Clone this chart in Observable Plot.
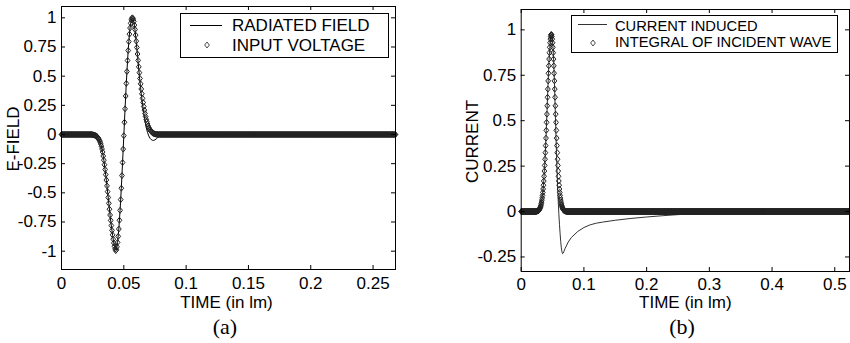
<!DOCTYPE html>
<html>
<head>
<meta charset="utf-8">
<script src="https://cdn.jsdelivr.net/npm/d3@7"></script>
<script src="https://cdn.jsdelivr.net/npm/@observablehq/plot@0.6"></script>
<style>
  body { margin: 0; background: #fff; }
  #page { position: relative; width: 850px; height: 343px; background: #fff; overflow: hidden;
          font-family: "Liberation Sans", Arial, sans-serif; color: #000; }
  .panel { position: absolute; top: 0; }
  #pa { left: 0; }
  #pb { left: 425px; }
  .legend { position: absolute; }
  .cap { position: absolute; top: 316px; width: 100px; text-align: center; line-height: 22px;
         font-family: "Liberation Serif", "Times New Roman", serif; font-size: 22px; }
</style>
</head>
<body>
<div id="page">
  <div id="pa" class="panel"></div>
  <div id="pb" class="panel"></div>
  <svg class="legend" style="left:180px;top:13px" width="209" height="45">
    <rect x="0.5" y="0.5" width="208" height="44" fill="#fff" stroke="#000" stroke-width="1"></rect>
    <line x1="10" x2="42" y1="12.5" y2="12.5" stroke="#000" stroke-width="1"></line>
    <path d="M27,29.03L29.37,32L27,34.97L24.63,32Z" fill="none" stroke="#333" stroke-width="0.9"></path>
    <text x="52" y="18" font-size="17" font-family="Liberation Sans, Arial, sans-serif">RADIATED FIELD</text>
    <text x="52" y="38" font-size="17" font-family="Liberation Sans, Arial, sans-serif">INPUT VOLTAGE</text>
  </svg>
  <svg class="legend" style="left:571px;top:15px" width="267" height="38">
    <rect x="0.5" y="0.5" width="266" height="37" fill="#fff" stroke="#000" stroke-width="1"></rect>
    <line x1="7" x2="36" y1="9.5" y2="9.5" stroke="#333" stroke-width="1"></line>
    <path d="M22,25.03L24.37,28L22,30.97L19.63,28Z" fill="none" stroke="#333" stroke-width="0.9"></path>
    <text x="44" y="15.7" font-size="14.7" font-family="Liberation Sans, Arial, sans-serif">CURRENT INDUCED</text>
    <text x="44" y="31.7" font-size="14.7" font-family="Liberation Sans, Arial, sans-serif">INTEGRAL OF INCIDENT WAVE</text>
  </svg>
  <div class="cap" style="left:175px">(a)</div>
  <div class="cap" style="left:632px">(b)</div>
</div>
<script>
// ---------- data ----------
const sampleStep = 0.0005;

// Panel (a)
const xTicksA = [0, 0.05, 0.1, 0.15, 0.2, 0.25];
const yTicksA = [-1, -0.75, -0.5, -0.25, 0, 0.25, 0.5, 0.75, 1];
const gridEndA = 0.268;

const fieldTimes = [0, 0.024, 0.025, 0.026, 0.027, 0.028, 0.029, 0.030, 0.031, 0.032, 0.033,
  0.034, 0.035, 0.036, 0.037, 0.038, 0.039, 0.040, 0.041, 0.042, 0.043, 0.044, 0.045, 0.046,
  0.047, 0.048, 0.049, 0.050, 0.051, 0.052, 0.053, 0.054, 0.055, 0.056, 0.057, 0.058, 0.059,
  0.060, 0.061, 0.062, 0.063, 0.064, 0.065, 0.066, 0.067, 0.068, 0.069, 0.070, 0.071, 0.072,
  0.073, 0.074, 0.075, 0.076, 0.077, 0.078, 0.079, 0.080, 0.081, 0.082, 0.268];
const radiatedField = [0, 0, -0.002, -0.004, -0.008, -0.014, -0.024, -0.040, -0.066, -0.102, -0.152,
  -0.222, -0.303, -0.393, -0.494, -0.594, -0.694, -0.784, -0.864, -0.933, -0.982, -0.990, -0.925, -0.810,
  -0.650, -0.460, -0.240, -0.010, 0.220, 0.438, 0.634, 0.796, 0.913, 0.982, 1.000, 0.968, 0.895,
  0.790, 0.675, 0.560, 0.450, 0.350, 0.260, 0.180, 0.115, 0.060, 0.018, -0.012, -0.032, -0.044,
  -0.050, -0.050, -0.046, -0.038, -0.028, -0.018, -0.010, -0.004, -0.001, 0, 0];

// input voltage samples (every 0.0005) starting at t = 0.024; zero elsewhere
const voltageStart = 0.024;
const inputVoltage = [0, -0.001, -0.002, -0.003, -0.004, -0.006, -0.008, -0.011, -0.014, -0.019,
  -0.024, -0.031, -0.040, -0.051, -0.065, -0.081, -0.100, -0.124, -0.150, -0.184,
  -0.220, -0.259, -0.300, -0.344, -0.390, -0.440, -0.490, -0.540, -0.590, -0.640,
  -0.690, -0.736, -0.780, -0.822, -0.860, -0.897, -0.930, -0.958, -0.980, -0.995,
  -0.988, -0.963, -0.925, -0.873, -0.810, -0.735, -0.650, -0.558, -0.460, -0.352,
  -0.240, -0.125, -0.010, 0.105, 0.220, 0.330, 0.438, 0.540, 0.634, 0.720,
  0.796, 0.860, 0.913, 0.953, 0.982, 0.997, 1.000, 0.990, 0.970, 0.938,
  0.900, 0.852, 0.800, 0.746, 0.690, 0.635, 0.580, 0.530, 0.480, 0.434,
  0.390, 0.349, 0.310, 0.274, 0.240, 0.209, 0.180, 0.154, 0.130, 0.109,
  0.090, 0.074, 0.060, 0.049, 0.040, 0.032, 0.025, 0.020, 0.015, 0.011,
  0.008, 0.006, 0.004, 0.003, 0.002, 0.001, 0.001, 0];

// Panel (b)
const xTicksB = [0, 0.1, 0.2, 0.3, 0.4, 0.5];
const yTicksB = [-0.25, 0, 0.25, 0.5, 0.75, 1];
const gridEndB = 0.5235;

const currentTimes = [0, 0.024, 0.026, 0.028, 0.030, 0.032, 0.034, 0.036, 0.038, 0.040, 0.042,
  0.044, 0.046, 0.047, 0.048, 0.049, 0.050, 0.051, 0.052, 0.053, 0.054, 0.055, 0.056, 0.057,
  0.058, 0.059, 0.060, 0.061, 0.062, 0.063, 0.064, 0.065, 0.066, 0.067, 0.068, 0.070, 0.075,
  0.080, 0.090, 0.100, 0.110, 0.120, 0.130, 0.150, 0.175, 0.200, 0.225, 0.250, 0.300, 0.400, 0.5235];
const currentInduced = [0, 0.001, 0.004, 0.008, 0.019, 0.043, 0.089, 0.168, 0.288, 0.447, 0.629,
  0.802, 0.929, 0.963, 0.975, 0.968, 0.94, 0.89, 0.81, 0.71, 0.59, 0.47, 0.35, 0.24,
  0.14, 0.06, -0.01, -0.07, -0.12, -0.165, -0.2, -0.222, -0.232, -0.229, -0.221, -0.203, -0.168,
  -0.143, -0.11, -0.088, -0.073, -0.064, -0.058, -0.048, -0.038, -0.030, -0.023, -0.017, -0.010, -0.004, -0.001];

// integral of incident wave samples (every 0.0005) starting at t = 0.024; zero elsewhere
const integralStart = 0.024;
const integralIncident = [0.001, 0.001, 0.002, 0.002, 0.003, 0.003, 0.004, 0.006, 0.007, 0.009,
  0.012, 0.015, 0.019, 0.023, 0.029, 0.035, 0.043, 0.052, 0.063, 0.075,
  0.089, 0.105, 0.124, 0.145, 0.168, 0.194, 0.223, 0.254, 0.288, 0.324,
  0.363, 0.404, 0.447, 0.491, 0.536, 0.582, 0.629, 0.674, 0.719, 0.761,
  0.802, 0.839, 0.874, 0.904, 0.929, 0.949, 0.963, 0.972, 0.975, 0.972,
  0.963, 0.949, 0.929, 0.904, 0.874, 0.839, 0.802, 0.761, 0.719, 0.674,
  0.629, 0.582, 0.536, 0.491, 0.447, 0.404, 0.363, 0.324, 0.288, 0.254,
  0.223, 0.194, 0.168, 0.145, 0.124, 0.105, 0.089, 0.075, 0.063, 0.052,
  0.043, 0.035, 0.029, 0.023, 0.019, 0.015, 0.012, 0.009, 0.007, 0.006,
  0.004, 0.003, 0.003, 0.002, 0.002, 0.001, 0.001];

// ---------- build rows ----------
function sampled(start, values, end) {
  const n = Math.round(end / sampleStep);
  const offset = Math.round(start / sampleStep);
  return d3.range(n + 1).map(i => {
    const j = i - offset;
    return {t: i * sampleStep, v: (j >= 0 && j < values.length) ? values[j] : 0};
  });
}
const pairs = (ts, vs) => ts.map((t, i) => ({t, v: vs[i]}));

const voltageRows = sampled(voltageStart, inputVoltage, gridEndA);
const fieldRows = pairs(fieldTimes, radiatedField);
const integralRows = sampled(integralStart, integralIncident, gridEndB);
const currentRows = pairs(currentTimes, currentInduced);

// tall open diamond like MATLAB's 'd' marker
const diamondTall = {
  draw(ctx, size) {
    const h = Math.sqrt(size) * 0.62, w = h * 0.8;
    ctx.moveTo(0, -h); ctx.lineTo(w, 0); ctx.lineTo(0, h); ctx.lineTo(-w, 0); ctx.closePath();
  }
};

const font = "'Liberation Sans', Arial, sans-serif";

function panel(o) {
  const innerW = o.width - o.ml - o.mr;
  const innerH = o.height - o.mt - o.mb;
  return Plot.plot({
    width: o.width, height: o.height,
    marginLeft: o.ml, marginRight: o.mr, marginTop: o.mt, marginBottom: o.mb,
    x: {domain: o.xDomain}, y: {domain: o.yDomain},
    style: {fontFamily: font, fontSize: "17px", color: "#000", background: "transparent"},
    marks: [
      Plot.line(o.lineRows, {x: "t", y: "v", stroke: o.lineColor, strokeWidth: 1}),
      Plot.dot(o.dotRows, {x: "t", y: "v", symbol: diamondTall, r: 2.7, stroke: "#222", strokeWidth: 1, fill: "none"}),
      Plot.frame({stroke: "#000", strokeWidth: 1}),
      Plot.tickX(o.xTicks, {x: d => d, insetTop: innerH - 4, stroke: "#000"}),
      Plot.tickX(o.xTicks, {x: d => d, insetBottom: innerH - 4, stroke: "#000"}),
      Plot.tickY(o.yTicks, {y: d => d, insetRight: innerW - 4, stroke: "#000"}),
      Plot.tickY(o.yTicks, {y: d => d, insetLeft: innerW - 4, stroke: "#000"}),
      Plot.axisX(o.xTicks, {tickSize: 0, tickPadding: o.xPad, tickFormat: d => String(d), label: null}),
      Plot.axisY(o.yTicks, {tickSize: 0, tickPadding: 5, tickFormat: d => String(d), label: null}),
      Plot.text([o.xLabel], {text: d => d, frameAnchor: "bottom", lineAnchor: "top", dy: o.xLabelDy, dx: o.xLabelDx, fill: "#000"}),
      Plot.text([o.yLabel], {text: d => d, frameAnchor: "left", rotate: -90, textAnchor: "middle", lineAnchor: "middle", dx: o.yLabelDx, dy: 1, fill: "#000"})
    ]
  });
}

document.getElementById("pa").append(panel({
  width: 425, height: 314, ml: 61, mr: 30, mt: 6, mb: 45,
  xDomain: [0, 0.268], yDomain: [-1.157, 1.097],
  xTicks: xTicksA, yTicks: yTicksA,
  lineRows: fieldRows, dotRows: voltageRows, lineColor: "#000",
  xPad: 7, xLabel: "TIME (in lm)", xLabelDy: 26, xLabelDx: -2,
  yLabel: "E-FIELD", yLabelDx: -48
}));

document.getElementById("pb").append(panel({
  width: 425, height: 314, ml: 95.7, mr: 1, mt: 9, mb: 43,
  xDomain: [0, 0.5235], yDomain: [-0.33, 1.112],
  xTicks: xTicksB, yTicks: yTicksB,
  lineRows: currentRows, dotRows: integralRows, lineColor: "#333",
  xPad: 6, xLabel: "TIME (in lm)", xLabelDy: 24, xLabelDx: 0,
  yLabel: "CURRENT", yLabelDx: -49
}));
</script>
</body>
</html>
